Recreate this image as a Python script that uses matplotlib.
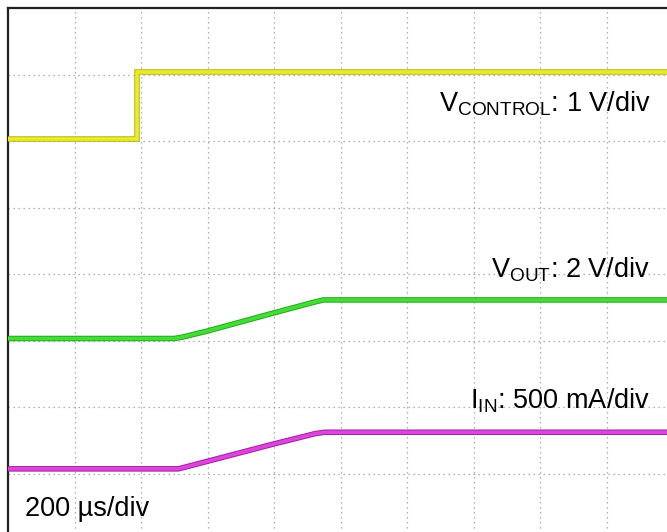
import matplotlib.pyplot as plt

plt.rcParams['font.family'] = ['Liberation Sans', 'DejaVu Sans']
plt.rcParams['mathtext.fontset'] = 'custom'
plt.rcParams['mathtext.rm'] = 'Liberation Sans'

# screen positions in divisions (10 x 8 graticule, 200 us/div)
t_ctrl = [0.0, 1.94, 1.94, 10.0]
v_ctrl = [6.03, 6.03, 7.04, 7.04]

t_out = [0.0, 2.50, 2.62, 2.99, 3.98, 4.54, 4.74, 10.0]
v_out = [3.03, 3.03, 3.05, 3.14, 3.41, 3.56, 3.61, 3.61]

t_in = [0.0, 2.56, 2.68, 3.98, 4.62, 4.76, 10.0]
v_in = [1.07, 1.07, 1.10, 1.44, 1.60, 1.62, 1.62]

labels = [r'$\mathregular{V_{CONTROL}}$: 1 V/div',
          r'$\mathregular{V_{OUT}}$: 2 V/div',
          r'$\mathregular{I_{IN}}$: 500 mA/div']
label_y = [6.45, 3.94, 1.98]

fig = plt.figure(figsize=(6.67, 5.32), dpi=100)
ax = fig.add_axes([8 / 667, -8 / 532, 665 / 667, 532 / 532])
ax.set_xlim(0, 10)
ax.set_ylim(0, 8)

# graticule
for x in range(1, 10):
    ax.axvline(x, color='#999999', lw=0.9, ls=(0, (1, 3)), zorder=1)
for y in range(1, 8):
    ax.axhline(y, color='#999999', lw=0.9, ls=(0, (1, 3)), zorder=1)

ax.plot(t_ctrl, v_ctrl, color='#b8b800', lw=4.0, solid_joinstyle='miter', zorder=3)
ax.plot(t_ctrl, v_ctrl, color='#eaea30', lw=2.6, solid_joinstyle='miter', zorder=4)
ax.plot(t_out, v_out, color='#22a822', lw=4.0, zorder=3)
ax.plot(t_out, v_out, color='#44dd33', lw=2.6, zorder=4)
ax.plot(t_in, v_in, color='#a020a0', lw=4.0, zorder=3)
ax.plot(t_in, v_in, color='#dd44dd', lw=2.6, zorder=4)

for lab, y in zip(labels, label_y):
    ax.text(9.66, y, lab, fontsize=19.5, ha='right', va='baseline', zorder=5)
ax.text(0.25, 0.36, '200 µs/div', fontsize=19.5, ha='left', va='baseline', zorder=5)

ax.set_xticks([])
ax.set_yticks([])
for s in ['left', 'top']:
    ax.spines[s].set_linewidth(1.6)
    ax.spines[s].set_color('#222222')

plt.savefig('out.png', dpi=100)
